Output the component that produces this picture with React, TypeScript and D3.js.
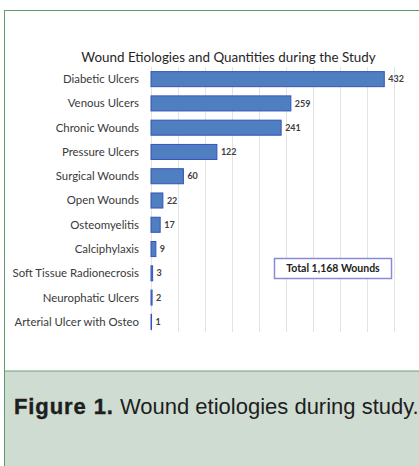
import React from "react";
import * as d3 from "d3";

const categories = [
  "Diabetic Ulcers",
  "Venous Ulcers",
  "Chronic Wounds",
  "Pressure Ulcers",
  "Surgical Wounds",
  "Open Wounds",
  "Osteomyelitis",
  "Calciphylaxis",
  "Soft Tissue Radionecrosis",
  "Neurophatic Ulcers",
  "Arterial Ulcer with Osteo",
];
const counts = [432, 259, 241, 122, 60, 22, 17, 9, 3, 2, 1];
const gridTicks = [0, 50, 100, 150, 200, 250, 300, 350, 400, 450];
const chartTitle = "Wound Etiologies and Quantities during the Study";
const totalLabel = "Total 1,168 Wounds";

const W = 419;
const H = 466;
const FONT = "Lato, 'Open Sans', sans-serif";

export default function App() {
  const x = d3.scaleLinear().domain([0, 450]).range([151, 394]);
  const y = d3
    .scaleBand<string>()
    .domain(categories)
    .range([67, 334])
    .paddingInner(0.38)
    .paddingOuter(0.19);

  const gridTop = 67;
  const gridBottom = 332;

  return (
    <svg
      width={W}
      height={H}
      style={{ position: "absolute", left: 0, top: 0, background: "#fff" }}
    >
      {/* figure frame */}
      <rect x={0} y={0} width={W} height={H} fill="#fff" />
      <rect x={4.5} y={371} width={W} height={H} fill="#cfdcd2" />
      <rect
        x={4.5}
        y={10.5}
        width={W + 20}
        height={H + 20}
        fill="none"
        stroke="#5f9a6e"
        strokeWidth={1}
      />
      <line x1={4.5} x2={W} y1={371} y2={371} stroke="#6f9a7b" strokeWidth={1} />

      {/* chart title */}
      <text
        x={228.5}
        y={61.5}
        textAnchor="middle"
        fontFamily={FONT}
        fontSize={13.4}
        fill="#262626"
      >
        {chartTitle}
      </text>

      {/* vertical gridlines */}
      {gridTicks.map((t) => (
        <line
          key={t}
          x1={Math.round(x(t)) + 0.5}
          x2={Math.round(x(t)) + 0.5}
          y1={gridTop}
          y2={gridBottom}
          stroke="#e3e3e3"
          strokeWidth={1}
        />
      ))}

      {/* bars */}
      {categories.map((c, i) => {
        const y0 = y(c)!;
        const bw = y.bandwidth();
        return (
          <g key={c}>
            <rect
              x={x(0)}
              y={y0}
              width={Math.max(x(counts[i]) - x(0), 0.5)}
              height={bw}
              fill="#4f7fc1"
              stroke="#3653b9"
              strokeWidth={1}
            />
            <text
              x={x(counts[i]) + 4}
              y={y0 + bw / 2}
              dy="0.35em"
              fontFamily={FONT}
              fontSize={9}
              fontWeight={700}
              fill="#404040"
            >
              {counts[i]}
            </text>
            <text
              x={139}
              y={y0 + bw / 2}
              dy="0.35em"
              textAnchor="end"
              fontFamily={FONT}
              fontSize={11.4}
              fill="#3a3a3a"
            >
              {c}
            </text>
          </g>
        );
      })}

      {/* total annotation */}
      <rect
        x={274.5}
        y={258.5}
        width={117}
        height={20}
        fill="#fff"
        stroke="#8a8ad8"
        strokeWidth={1.5}
      />
      <text
        x={333}
        y={268.5}
        dy="0.35em"
        textAnchor="middle"
        fontFamily={FONT}
        fontSize={10.5}
        fontWeight={700}
        fill="#222"
      >
        {totalLabel}
      </text>

      {/* figure caption */}
      <text
        x={14}
        y={414}
        fontFamily="'Liberation Sans', Arial, sans-serif"
        fontSize={22}
        fill="#1e1e1e"
      >
        <tspan fontWeight={700} letterSpacing={0.9} stroke="#1e1e1e" strokeWidth={0.4}>
          Figure 1.
        </tspan>
        <tspan> Wound etiologies during study.</tspan>
      </text>
    </svg>
  );
}
